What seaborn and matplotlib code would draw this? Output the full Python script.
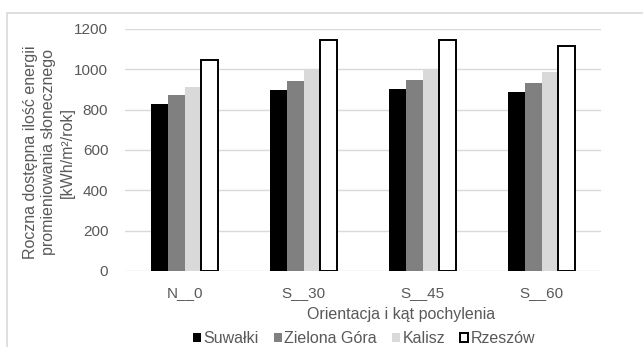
import pandas as pd
import seaborn as sns
import matplotlib.pyplot as plt
from matplotlib.patches import Patch, Rectangle

# dane
kategorie = ["N__0", "S__30", "S__45", "S__60"]
miasta = ["Suwałki", "Zielona Góra", "Kalisz", "Rzeszów"]
suwalki = [828, 899, 902, 886]
zielona_gora = [871, 940, 945, 931]
kalisz = [912, 1000, 1003, 987]
rzeszow = [1046, 1144, 1145, 1117]
kolory = ["#000000", "#808080", "#d9d9d9", "#ffffff"]

df = pd.DataFrame({
    "kat": kategorie * 4,
    "miasto": sum([[m] * 4 for m in miasta], []),
    "wartosc": suwalki + zielona_gora + kalisz + rzeszow,
})

sns.set_style("white")
plt.rcParams["font.family"] = ["Liberation Sans", "DejaVu Sans"]
szary = "#595959"

fig = plt.figure(figsize=(6.43, 3.47), dpi=100)
ax = fig.add_axes([125 / 643, 76 / 347, 476 / 643, 242 / 347])

sns.barplot(data=df, x="kat", y="wartosc", hue="miasto", order=kategorie,
            hue_order=miasta, palette=kolory, width=0.57, saturation=1,
            linewidth=0, legend=False, ax=ax)

# obramowanie słupków Rzeszów
for bar in ax.containers[3]:
    bar.set_edgecolor("black")
    bar.set_linewidth(1.4)

ax.set_ylim(0, 1200)
ax.set_yticks(range(0, 1201, 200))
ax.yaxis.grid(True, color="#d9d9d9", linewidth=1)
ax.set_axisbelow(True)
for s in ax.spines.values():
    s.set_visible(False)
ax.tick_params(axis="both", length=0, labelsize=11, colors=szary)
ax.tick_params(axis="y", pad=12)
ax.tick_params(axis="x", pad=11)

ax.set_xlabel("Orientacja i kąt pochylenia", fontsize=11.5, color=szary)
ax.xaxis.set_label_coords(0.58, -0.148)
ax.set_ylabel("Roczna dostępna ilość energii\npromieniowania słonecznego\n[kWh/m²/rok]",
              fontsize=11.5, color=szary, linespacing=1.3, va="center")
ax.yaxis.set_label_coords(-0.160, 0.49)

handles = [Patch(facecolor=c, edgecolor="black" if c == "#ffffff" else c,
                 linewidth=1.4 if c == "#ffffff" else 0) for c in kolory]
fig.legend(handles, miasta, loc="center", bbox_to_anchor=(0.566, 0.024), ncol=4,
           frameon=False, fontsize=11.5, handlelength=0.5, handleheight=0.5,
           handletextpad=0.15, columnspacing=0.95, labelcolor=szary,
           borderpad=0, borderaxespad=0)

fig.patches.append(Rectangle((7 / 643, -0.1), 1.2, (347 - 13) / 347 + 0.1,
                             transform=fig.transFigure, fill=False,
                             edgecolor="#d9d9d9", linewidth=1.2))

fig.savefig("out.png", dpi=100)
plt.close()
